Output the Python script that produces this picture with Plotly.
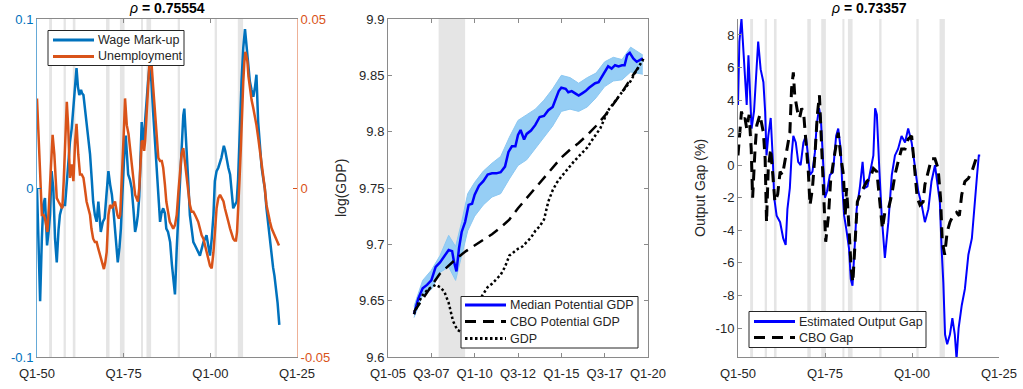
import plotly.graph_objects as go

# ---------------- data ----------------
# Panel 1: wage mark-up (left axis) and unemployment (right axis)
wage_t = [1950.0, 1950.5, 1950.9, 1951.4, 1951.8, 1952.3, 1952.9, 1953.4, 1953.75, 1954.2, 1954.7,
          1955.2, 1955.7, 1956.2, 1956.6, 1957.1, 1957.6, 1958.1, 1958.6, 1959.0, 1959.5, 1960.0,
          1960.5, 1961.0, 1961.4, 1961.8, 1962.2, 1962.7, 1963.0, 1963.4, 1963.8, 1964.3, 1964.8,
          1965.3, 1965.8, 1966.2, 1966.7, 1967.2, 1967.7, 1968.0, 1968.4, 1969.0, 1969.5, 1970.0,
          1970.6, 1971.1, 1971.6, 1972.0, 1972.5, 1972.9, 1973.3, 1973.8, 1974.2, 1974.6, 1974.9,
          1975.3, 1975.6, 1975.9, 1976.3, 1976.8, 1977.3, 1977.8, 1978.3, 1978.7, 1979.1, 1979.5,
          1979.8, 1980.2, 1980.6, 1980.9, 1981.2, 1981.6, 1982.0, 1982.4, 1982.7, 1983.0, 1983.5,
          1984.0, 1984.5, 1985.0, 1985.5, 1985.9, 1986.4, 1986.9, 1987.3, 1987.8, 1988.4, 1988.9,
          1989.3, 1989.8, 1990.3, 1990.8, 1991.25, 1991.7, 1992.2, 1992.5, 1993.1, 1993.6, 1994.1,
          1994.6, 1995.1, 1995.6, 1996.0, 1996.5, 1997.0, 1997.5, 1998.0, 1998.5, 1998.9, 1999.4,
          1999.9, 2000.4, 2000.9, 2001.3, 2001.8, 2002.3, 2002.8, 2003.2, 2003.6, 2003.9, 2004.3,
          2004.6, 2005.2, 2005.7, 2006.2, 2006.6, 2007.1, 2007.6, 2008.0, 2008.4, 2008.7, 2009.0,
          2009.5, 2010.0, 2010.4, 2010.7, 2011.0, 2011.4, 2011.9, 2012.4, 2012.9, 2013.3, 2013.8,
          2014.3, 2014.8, 2015.3, 2015.7, 2016.2, 2016.7, 2017.2, 2017.7, 2018.1, 2018.5, 2018.9,
          2019.4, 2019.9]
wage_v = [0.000, -0.030, -0.067, -0.030, -0.010, -0.006, -0.034, -0.025, -0.016, 0.010, 0.000,
          -0.030, -0.044, -0.025, -0.016, -0.012, -0.010, -0.010, 0.005, 0.014, 0.027, 0.035,
          0.049, 0.062, 0.071, 0.060, 0.055, 0.058, 0.056, 0.055, 0.048, 0.039, 0.030,
          0.020, 0.005, -0.008, -0.016, -0.020, -0.008, -0.015, -0.026, -0.020, -0.018, -0.005,
          0.010, 0.002, -0.004, -0.012, -0.024, -0.035, -0.044, -0.035, -0.024, -0.005, 0.010,
          0.025, 0.031, 0.020, 0.008, 0.005, 0.000, -0.012, -0.026, -0.022, -0.016, -0.005,
          0.015, 0.039, 0.030, 0.027, 0.040, 0.053, 0.062, 0.071, 0.068, 0.063, 0.045,
          0.027, 0.010, -0.006, -0.020, -0.015, -0.012, -0.015, -0.024, -0.026, -0.032, -0.045,
          -0.055, -0.063, -0.036, -0.015, 0.008, 0.025, 0.043, 0.047, 0.027, 0.005, -0.016,
          -0.026, -0.032, -0.034, -0.036, -0.038, -0.040, -0.036, -0.032, -0.030, -0.028, -0.034,
          -0.040, -0.030, -0.016, 0.004, 0.010, 0.012, 0.015, 0.018, 0.022, 0.025, 0.022,
          0.018, 0.012, 0.008, -0.002, -0.012, -0.010, -0.008, 0.005, 0.024, 0.045, 0.063,
          0.083, 0.094, 0.085, 0.079, 0.070, 0.063, 0.058, 0.054, 0.060, 0.067, 0.039,
          0.025, 0.012, 0.005, 0.000, -0.012, -0.022, -0.032, -0.040, -0.047, -0.052, -0.059,
          -0.068, -0.081]

unemp_t = [1950.0, 1950.3, 1950.7, 1951.0, 1951.4, 1951.9, 1952.3, 1953.0, 1953.4, 1953.75, 1954.1,
           1954.5, 1955.0, 1955.3, 1955.7, 1956.2, 1956.7, 1957.3, 1957.7, 1958.1, 1958.6, 1959.0,
           1959.3, 1959.5, 1960.0, 1960.5, 1961.0, 1961.4, 1961.9, 1962.4, 1962.9, 1963.4, 1963.8,
           1964.3, 1964.8, 1965.3, 1965.7, 1966.2, 1966.7, 1967.2, 1967.7, 1968.2, 1968.6, 1969.3,
           1969.7, 1970.1, 1970.6, 1971.1, 1971.6, 1972.0, 1972.5, 1973.2, 1973.6, 1974.0, 1974.4,
           1974.8, 1975.1, 1975.4, 1975.9, 1976.4, 1976.8, 1977.3, 1977.8, 1978.3, 1978.7, 1979.1,
           1979.5, 1979.8, 1980.2, 1980.6, 1980.9, 1981.2, 1981.6, 1982.0, 1982.4, 1982.8, 1983.0,
           1983.5, 1984.0, 1984.5, 1985.0, 1985.5, 1986.0, 1986.4, 1986.9, 1987.3, 1987.8, 1988.3,
           1988.8, 1989.3, 1989.8, 1990.3, 1990.8, 1991.25, 1991.7, 1992.2, 1992.6, 1993.1, 1993.7,
           1994.1, 1994.6, 1995.1, 1995.6, 1996.0, 1996.5, 1997.0, 1997.5, 1998.0, 1998.5, 1999.0,
           1999.4, 1999.9, 2000.4, 2000.9, 2001.4, 2001.8, 2002.3, 2002.8, 2003.3, 2003.8, 2004.2,
           2004.6, 2005.2, 2005.7, 2006.2, 2006.6, 2007.0, 2007.4, 2007.7, 2008.0, 2008.4, 2008.8,
           2009.1, 2009.5, 2009.8, 2010.1, 2010.4, 2010.7, 2011.0, 2011.4, 2011.9, 2012.4, 2012.9,
           2013.3, 2013.8, 2014.2, 2014.7, 2015.3, 2015.7, 2016.2, 2016.7, 2017.2, 2017.7, 2018.1,
           2018.5, 2019.0, 2019.4, 2019.8]
unemp_v = [0.0265, 0.020, 0.012, 0.002, -0.008, -0.008, -0.009, -0.013, -0.006, 0.002, 0.010,
           0.0157, 0.010, 0.002, -0.003, -0.004, -0.005, -0.006, 0.002, 0.012, 0.0255, 0.018,
           0.008, 0.003, 0.007, 0.002, 0.0137, 0.019, 0.010, 0.004, 0.004, 0.003, 0.000,
           -0.004, -0.006, -0.008, -0.012, -0.015, -0.016, -0.016, -0.018, -0.020, -0.022, -0.024,
           -0.022, -0.019, -0.008, -0.005, -0.006, -0.005, -0.004, -0.008, -0.009, -0.008, 0.000,
           0.0078, 0.018, 0.0265, 0.0186, 0.016, 0.012, 0.007, 0.002, -0.002, -0.003, -0.004,
           0.000, 0.006, 0.0137, 0.014, 0.011, 0.014, 0.021, 0.030, 0.0364, 0.039, 0.0374,
           0.030, 0.0216, 0.016, 0.0089, 0.008, 0.008, 0.006, 0.001, -0.004, -0.007, -0.010,
           -0.011, -0.012, -0.011, -0.008, -0.001, 0.006, 0.010, 0.0118, 0.008, 0.003, -0.002,
           -0.005, -0.007, -0.007, -0.008, -0.009, -0.010, -0.012, -0.014, -0.015, -0.017, -0.019,
           -0.021, -0.023, -0.0238, -0.019, -0.012, -0.006, -0.003, -0.002, -0.003, -0.004, -0.006,
           -0.008, -0.010, -0.012, -0.014, -0.015, -0.0155, -0.0155, -0.013, -0.008, 0.002, 0.0118,
           0.022, 0.0314, 0.037, 0.0403, 0.039, 0.0374, 0.033, 0.0295, 0.026, 0.0236, 0.021,
           0.0186, 0.015, 0.0118, 0.008, 0.004, 0.000, -0.005, -0.008, -0.010, -0.012, -0.013,
           -0.014, -0.015, -0.016, -0.017]

# Panel 2: potential GDP (log levels)
median_t = [2006.5, 2006.75, 2007.0, 2007.25, 2007.5, 2007.75, 2008.0, 2008.25, 2008.5, 2008.7,
            2008.8, 2008.95, 2009.1, 2009.25, 2009.45, 2009.65, 2009.85, 2010.0, 2010.25, 2010.5,
            2010.75, 2011.0, 2011.25, 2011.5, 2011.75, 2011.95, 2012.15, 2012.35, 2012.5, 2012.65,
            2012.85, 2013.0, 2013.25, 2013.5, 2013.75, 2014.0, 2014.25, 2014.5, 2014.7, 2014.85,
            2015.0, 2015.25, 2015.4, 2015.6, 2015.8, 2016.0, 2016.2, 2016.4, 2016.6, 2016.75,
            2016.95, 2017.15, 2017.35, 2017.5, 2017.7, 2017.9, 2018.1, 2018.3, 2018.5, 2018.65,
            2018.8, 2018.95, 2019.15, 2019.35, 2019.55, 2019.7]
median_v = [9.638, 9.652, 9.661, 9.664, 9.668, 9.680, 9.684, 9.690, 9.695, 9.694,
            9.685, 9.676, 9.697, 9.711, 9.720, 9.735, 9.736, 9.744, 9.752, 9.756,
            9.762, 9.763, 9.763, 9.764, 9.769, 9.782, 9.787, 9.787, 9.797, 9.8015,
            9.793, 9.798, 9.801, 9.806, 9.813, 9.814, 9.819, 9.822, 9.830, 9.836,
            9.839, 9.838, 9.835, 9.836, 9.834, 9.832, 9.834, 9.836, 9.839, 9.841,
            9.843, 9.844, 9.849, 9.853, 9.858, 9.856, 9.859, 9.858, 9.859, 9.859,
            9.868, 9.870, 9.865, 9.862, 9.864, 9.865]

band_t = [2006.5, 2007.0, 2007.5, 2008.0, 2008.5, 2008.9, 2009.25, 2009.6, 2010.0, 2010.5,
          2011.0, 2011.5, 2012.0, 2012.5, 2013.0, 2013.5, 2014.0, 2014.5, 2015.0, 2015.5,
          2016.0, 2016.5, 2017.0, 2017.5, 2018.0, 2018.5, 2019.0, 2019.7]
band_hi = [9.645, 9.668, 9.677, 9.690, 9.708, 9.698, 9.720, 9.745, 9.755, 9.765,
           9.772, 9.778, 9.795, 9.810, 9.815, 9.820, 9.828, 9.838, 9.850, 9.848,
           9.843, 9.848, 9.852, 9.862, 9.866, 9.864, 9.875, 9.868]
band_lo = [9.635, 9.655, 9.660, 9.675, 9.680, 9.668, 9.690, 9.712, 9.725, 9.735,
           9.742, 9.745, 9.758, 9.770, 9.775, 9.785, 9.795, 9.805, 9.818, 9.820,
           9.818, 9.822, 9.830, 9.840, 9.845, 9.846, 9.853, 9.851]

cbo_t = [2006.5, 2007.0, 2007.5, 2008.0, 2008.5, 2009.0, 2009.5, 2010.0, 2010.5, 2011.0,
         2011.5, 2012.0, 2012.5, 2013.0, 2013.5, 2014.0, 2014.5, 2015.0, 2015.5, 2016.0,
         2016.5, 2017.0, 2017.5, 2018.0, 2018.5, 2019.0, 2019.5, 2019.7]
cbo_v = [9.640, 9.652, 9.663, 9.674, 9.681, 9.688, 9.694, 9.699, 9.704, 9.709,
         9.715, 9.722, 9.732, 9.741, 9.749, 9.759, 9.768, 9.777, 9.784, 9.790,
         9.797, 9.805, 9.814, 9.824, 9.835, 9.847, 9.858, 9.863]

gdp_t = [2006.5, 2006.75, 2007.0, 2007.25, 2007.5, 2007.75, 2008.0, 2008.25, 2008.5, 2008.75,
         2009.0, 2009.25, 2009.5, 2009.75, 2010.0, 2010.25, 2010.5, 2010.75, 2011.0, 2011.25,
         2011.5, 2011.75, 2012.0, 2012.25, 2012.5, 2012.75, 2013.0, 2013.25, 2013.5, 2013.75,
         2014.0, 2014.25, 2014.5, 2014.75, 2015.0, 2015.25, 2015.5, 2015.75, 2016.0, 2016.25,
         2016.5, 2016.75, 2017.0, 2017.25, 2017.5, 2017.75, 2018.0, 2018.25, 2018.5, 2018.75,
         2019.0, 2019.25, 2019.5, 2019.75]
gdp_v = [9.638, 9.648, 9.655, 9.659, 9.662, 9.664, 9.662, 9.658, 9.648, 9.632,
         9.624, 9.622, 9.627, 9.635, 9.643, 9.650, 9.656, 9.662, 9.665, 9.669,
         9.673, 9.680, 9.690, 9.693, 9.696, 9.698, 9.702, 9.706, 9.712, 9.716,
         9.722, 9.738, 9.748, 9.755, 9.760, 9.765, 9.770, 9.774, 9.778, 9.782,
         9.786, 9.792, 9.797, 9.803, 9.812, 9.820, 9.825, 9.830, 9.835, 9.840,
         9.845, 9.852, 9.859, 9.865]

# Panel 3: output gap (%)
gap_t = [1950.0, 1950.4, 1951.0, 1951.5, 1952.0, 1952.5, 1953.0, 1953.4, 1953.9, 1954.6, 1955.2,
         1955.8, 1956.5, 1957.3, 1957.8, 1958.2, 1958.7, 1959.4, 1960.0, 1960.4, 1961.1, 1962.1,
         1963.0, 1963.7, 1964.2, 1964.9, 1965.4, 1965.9, 1966.6, 1967.3, 1968.0, 1968.8, 1969.5,
         1970.0, 1970.7, 1971.4, 1972.1, 1972.6, 1973.3, 1973.8, 1974.4, 1975.0, 1975.6, 1976.4,
         1977.3, 1978.2, 1978.8, 1979.5, 1980.0, 1980.5, 1981.1, 1981.9, 1982.4, 1982.9, 1983.5,
         1984.1, 1985.0, 1985.8, 1986.4, 1987.2, 1988.0, 1988.9, 1989.4, 1989.9, 1990.6, 1991.3,
         1992.2, 1993.2, 1994.2, 1995.1, 1996.0, 1997.0, 1998.0, 1998.9, 1999.9, 2000.8, 2001.8,
         2002.8, 2003.7, 2004.7, 2005.6, 2006.6, 2007.3, 2008.0, 2008.5, 2009.0, 2009.5, 2010.1,
         2010.9, 2011.6, 2012.3, 2012.8, 2013.4, 2014.3, 2015.2, 2016.2, 2017.2, 2018.1, 2018.7,
         2019.2, 2019.6]
gap_v = [3.7, 7.6, 9.0, 7.2, 5.1, 3.7, 6.75, 4.3, 2.25, 3.3, 5.9,
         7.6, 5.9, 5.1, 3.3, 0.6, 1.8, 2.9, 0.4, -2.0, -3.1, -3.5,
         -4.5, -4.9, -2.7, -1.4, 0.6, 1.8, 1.4, 0.2, 0.0, 1.4, 1.8,
         0.6, -0.6, -0.4, 0.8, 2.45, 3.5, 2.9, 0.6, -2.0, -1.6, -0.6,
         -0.4, 1.8, 2.25, 1.0, -1.4, -3.1, -3.9, -5.1, -7.0, -7.4, -5.1,
         -2.7, -1.4, 0.2, -1.4, -1.3, -0.4, 0.6, 3.5, 3.1, -0.2, -3.1,
         -5.7, -3.5, -0.6, 0.6, 1.0, 1.8, 1.4, 2.25, 1.4, 0.0, -1.6,
         -2.45, -3.5, -2.7, -1.0, 0.0, -1.0, -2.25, -5.1, -7.2, -10.4, -11.0,
         -10.4, -9.4, -10.4, -11.9, -10.0, -8.6, -7.6, -5.5, -4.5, -1.8, -0.6,
         0.6, 0.6]

cbogap_t = [1950.0, 1950.4, 1951.0, 1951.5, 1952.0, 1952.5, 1953.2, 1953.8, 1954.2, 1954.9, 1955.4,
            1956.3, 1957.3, 1957.8, 1958.2, 1958.7, 1959.4, 1960.0, 1960.6, 1961.4, 1962.1, 1962.8,
            1963.5, 1964.2, 1964.9, 1965.4, 1965.9, 1966.3, 1967.1, 1967.7, 1968.3, 1968.9, 1969.5,
            1970.2, 1970.7, 1971.4, 1972.1, 1972.8, 1973.4, 1974.0, 1974.7, 1975.2, 1976.0, 1976.6,
            1977.4, 1978.1, 1978.8, 1979.5, 1980.3, 1980.8, 1981.2, 1981.9, 1982.5, 1983.0, 1983.6,
            1984.3, 1985.1, 1986.0, 1987.0, 1988.0, 1988.9, 1989.9, 1990.8, 1991.5, 1992.2, 1993.2,
            1994.2, 1995.1, 1996.0, 1997.0, 1998.0, 1998.9, 1999.9, 2000.8, 2001.5, 2002.3, 2003.2,
            2003.7, 2004.7, 2005.6, 2006.6, 2007.5, 2008.2, 2008.7, 2009.4, 2010.1, 2010.9, 2011.8,
            2012.8, 2013.6, 2014.3, 2015.2, 2016.2, 2017.2, 2018.1, 2018.7, 2019.3]
cbogap_v = [0.6, 1.8, 3.3, 2.8, 2.9, 2.25, 3.1, 1.0, -2.0, 1.0, 2.45,
            3.1, 2.0, 0.4, -3.5, -0.2, 1.0, -0.6, -2.25, -1.8, -0.4, -0.6,
            0.2, 1.0, 2.0, 4.7, 5.7, 4.3, 3.3, 2.9, 3.5, 3.1, 1.6,
            -0.4, -2.45, -1.4, 0.6, 3.1, 4.3, 1.0, -2.25, -4.7, -3.1, -1.0,
            0.2, 1.0, 2.0, 0.6, -0.6, -3.1, -1.4, -3.9, -6.3, -7.2, -4.7,
            -2.25, -1.8, -1.4, -1.0, -0.8, -0.2, -0.4, -2.25, -3.9, -2.9, -2.7,
            -1.8, -0.6, 0.2, 1.0, 1.0, 1.6, 1.8, -0.4, -2.0, -2.45, -2.25,
            -1.2, -0.4, 0.4, 0.4, -0.2, -2.0, -4.7, -5.5, -4.1, -3.5, -3.1,
            -2.9, -3.1, -1.8, -1.0, -0.8, -0.4, 0.2, 0.6, 0.7]

# NBER recession dates (decimal years)
rec_start = [1953.5, 1957.67, 1960.33, 1969.92, 1973.92, 1980.0, 1981.58, 1990.58, 2001.25, 2007.92]
rec_end = [1954.33, 1958.33, 1961.08, 1970.92, 1975.25, 1980.58, 1982.92, 1991.25, 2001.92, 2009.45]

long_ticks = [1950, 1975, 2000, 2025]
long_labels = ["Q1-50", "Q1-75", "Q1-00", "Q1-25"]
short_ticks = [2005, 2007.5, 2010, 2012.5, 2015, 2017.5, 2020]
short_labels = ["Q1-05", "Q3-07", "Q1-10", "Q3-12", "Q1-15", "Q3-17", "Q1-20"]
title_left = "0.75554"
title_right = "0.73357"

# ---------------- layout helpers ----------------
W, H = 1023, 389
ML, MR, MT, MB = 37, 24, 19, 32          # outer margins around the three panels
PW, PH = W - ML - MR, H - MT - MB
FONT = "Liberation Sans, Arial, Helvetica, sans-serif"
TXT = "#262626"
AX = "#8a8a8a"
BLUE_M = "#0072BD"
ORANGE_M = "#D95319"
BLUE = "#0000FF"
DASH = "11px,7px"
DOT = "2.5px,2.5px"
LEG_SIZE = 12.5


def px_x(p):
    """figure pixel column -> paper x"""
    return (p - ML) / PW


def px_y(p):
    """figure pixel row -> paper y"""
    return 1 - (p - MT) / PH


y_dom = [0, 1]
dom1 = [px_x(37), px_x(297)]
dom2 = [px_x(388), px_x(648)]
dom3 = [px_x(738), px_x(999)]

fig = go.Figure()

# Panel 1
fig.add_trace(go.Scatter(x=wage_t, y=wage_v, mode="lines", name="Wage Mark-up",
                         line=dict(color=BLUE_M, width=2.5), xaxis="x", yaxis="y"))
fig.add_trace(go.Scatter(x=unemp_t, y=unemp_v, mode="lines", name="Unemployment",
                         line=dict(color=ORANGE_M, width=2.5), xaxis="x", yaxis="y2"))

# Panel 2
fig.add_trace(go.Scatter(x=band_t, y=band_lo, mode="lines", name="draws (low)",
                         line=dict(color="rgb(140,200,242)", width=1), xaxis="x2", yaxis="y3",
                         hoverinfo="skip"))
fig.add_trace(go.Scatter(x=band_t, y=band_hi, mode="lines", name="draws (high)", fill="tonexty",
                         fillcolor="rgb(150,206,245)",
                         line=dict(color="rgb(140,200,242)", width=1), xaxis="x2", yaxis="y3",
                         hoverinfo="skip"))
fig.add_trace(go.Scatter(x=median_t, y=median_v, mode="lines", name="Median Potential GDP",
                         line=dict(color=BLUE, width=2.5), xaxis="x2", yaxis="y3"))
fig.add_trace(go.Scatter(x=cbo_t, y=cbo_v, mode="lines", name="CBO Potential GDP",
                         line=dict(color="black", width=2.5, dash=DASH), xaxis="x2", yaxis="y3"))
fig.add_trace(go.Scatter(x=gdp_t, y=gdp_v, mode="lines", name="GDP",
                         line=dict(color="black", width=2.5, dash=DOT), xaxis="x2", yaxis="y3"))

# Panel 3
fig.add_trace(go.Scatter(x=gap_t, y=gap_v, mode="lines", name="Estimated Output Gap",
                         line=dict(color=BLUE, width=2), xaxis="x3", yaxis="y4"))
fig.add_trace(go.Scatter(x=cbogap_t, y=cbogap_v, mode="lines", name="CBO Gap",
                         line=dict(color="black", width=3, dash=DASH), xaxis="x3", yaxis="y4"))

# Recession shading
shapes = []
for xr, lo, hi in (("x", 1950, 2025), ("x2", 2005, 2020), ("x3", 1950, 2025)):
    yr = {"x": "y", "x2": "y3", "x3": "y4"}[xr]
    for s, e in zip(rec_start, rec_end):
        if e < lo or s > hi:
            continue
        shapes.append(dict(type="rect", xref=xr, yref=f"{yr} domain",
                           x0=max(s, lo), x1=min(e, hi), y0=0, y1=1,
                           fillcolor="#e5e5e5", line=dict(width=0), layer="below"))

annotations = [
    dict(text=f"<i>ρ</i><b> = {title_left}</b>", x=(dom1[0] + dom1[1]) / 2, y=px_y(8),
         xanchor="center", yanchor="middle",
         xref="paper", yref="paper", showarrow=False, font=dict(family=FONT, size=14, color="black")),
    dict(text=f"<i>ρ</i><b> = {title_right}</b>", x=(dom3[0] + dom3[1]) / 2, y=px_y(8),
         xanchor="center", yanchor="middle",
         xref="paper", yref="paper", showarrow=False, font=dict(family=FONT, size=14, color="black")),
    dict(text="log(GDP)", x=px_x(341), y=px_y(188), xref="paper", yref="paper", showarrow=False,
         xanchor="center", yanchor="middle",
         textangle=-90, font=dict(family=FONT, size=14, color=TXT)),
    dict(text="Output Gap (%)", x=px_x(700), y=px_y(188), xref="paper", yref="paper",
         xanchor="center", yanchor="middle",
         showarrow=False, textangle=-90, font=dict(family=FONT, size=14, color=TXT)),
]


# Boxed legends (box, key line, label) placed in figure pixels
def add_legend(box, key_x, text_x, entries):
    x0, y0, x1, y1 = box
    shapes.append(dict(type="rect", xref="paper", yref="paper",
                       x0=px_x(x0), x1=px_x(x1), y0=px_y(y0), y1=px_y(y1),
                       fillcolor="white", line=dict(color="#262626", width=1), layer="above"))
    for (label, color, width, dash, row) in entries:
        shapes.append(dict(type="line", xref="paper", yref="paper",
                           x0=px_x(key_x[0]), x1=px_x(key_x[1]), y0=px_y(row), y1=px_y(row),
                           line=dict(color=color, width=width, dash=dash), layer="above"))
        annotations.append(dict(text=label, x=px_x(text_x), y=px_y(row), xref="paper",
                                yref="paper", xanchor="left", yanchor="middle", showarrow=False,
                                font=dict(family=FONT, size=LEG_SIZE, color=TXT)))


add_legend((48, 30.5, 184, 65.5), (53, 94), 96,
           [("Wage Mark-up", BLUE_M, 3, "solid", 40),
            ("Unemployment", ORANGE_M, 3, "solid", 56.5)])
add_legend((461, 296.5, 638, 348), (465, 506), 508,
           [("Median Potential GDP", BLUE, 3, "solid", 305),
            ("CBO Potential GDP", "black", 3, DASH, 321.5),
            ("GDP", "black", 3, DOT, 338.5)])
add_legend((749, 311.5, 926, 347.5), (754, 795), 797,
           [("Estimated Output Gap", BLUE, 3, "solid", 321.5),
            ("CBO Gap", "black", 3, DASH, 337.5)])

tickfont = dict(family=FONT, size=13, color=TXT)
common_x = dict(showgrid=False, zeroline=False, showline=True, linecolor=AX, linewidth=1,
                ticks="inside", ticklen=4, tickcolor=AX, tickfont=tickfont, automargin=False)

fig.update_layout(
    width=W, height=H, margin=dict(l=ML, r=MR, t=MT, b=MB, autoexpand=False),
    paper_bgcolor="white", plot_bgcolor="white",
    font=dict(family=FONT, size=13, color=TXT),
    xaxis=dict(domain=dom1, anchor="y", range=[1950, 2025], tickvals=long_ticks,
               ticktext=long_labels, mirror="ticks", ticklabelstandoff=4, **common_x),
    yaxis=dict(domain=y_dom, anchor="x", range=[-0.1, 0.1], tickvals=[-0.1, 0, 0.1],
               ticktext=["-0.1", "0", "0.1"], showgrid=False, zeroline=False, showline=True,
               linecolor="rgba(0,114,189,0.6)", ticks="inside", ticklen=4, tickcolor=BLUE_M,
               tickfont=dict(family=FONT, size=13, color=BLUE_M), automargin=False),
    yaxis2=dict(overlaying="y", anchor="x", side="right", range=[-0.05, 0.05],
                tickvals=[-0.05, 0, 0.05], ticktext=["-0.05", "0", "0.05"], showgrid=False,
                zeroline=False, showline=True, linecolor="rgba(217,83,25,0.45)", ticks="inside",
                ticklen=4, tickcolor=ORANGE_M, automargin=False,
                tickfont=dict(family=FONT, size=13, color=ORANGE_M)),
    xaxis2=dict(domain=dom2, anchor="y3", range=[2005, 2020], tickvals=short_ticks,
                ticktext=short_labels, mirror="ticks", ticklabelstandoff=4, **common_x),
    yaxis3=dict(domain=y_dom, anchor="x2", range=[9.6, 9.9],
                tickvals=[9.6, 9.65, 9.7, 9.75, 9.8, 9.85, 9.9],
                ticktext=["9.6", "9.65", "9.7", "9.75", "9.8", "9.85", "9.9"],
                mirror="ticks", **common_x),
    xaxis3=dict(domain=dom3, anchor="y4", range=[1950, 2025], tickvals=long_ticks,
                ticktext=long_labels, ticklabelstandoff=4, **common_x),
    yaxis4=dict(domain=y_dom, anchor="x3", range=[-11.78, 8.98],
                tickvals=[-10, -8, -6, -4, -2, 0, 2, 4, 6, 8],
                ticktext=["-10", "-8", "-6", "-4", "-2", "0", "2", "4", "6", "8"], **common_x),
    shapes=shapes,
    annotations=annotations,
    showlegend=False,
)

fig.write_html("out.html")
